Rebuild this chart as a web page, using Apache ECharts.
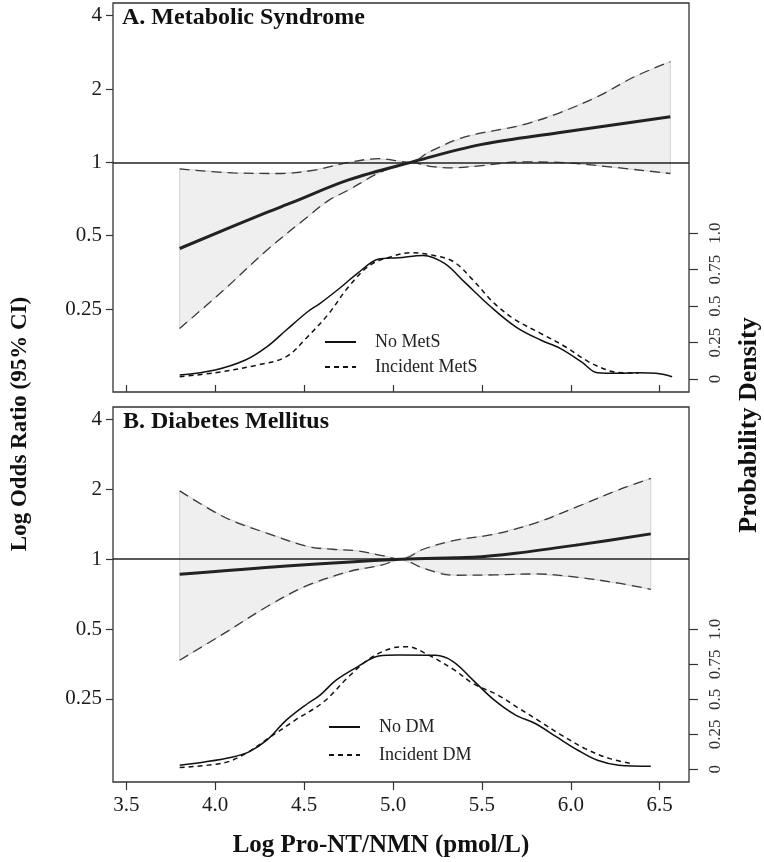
<!DOCTYPE html>
<html><head><meta charset="utf-8">
<script src="https://cdn.jsdelivr.net/npm/echarts@6.0.0/dist/echarts.min.js"></script>
<style>html,body{margin:0;padding:0;background:#fff}#c{width:764px;height:862px}</style>
</head><body><div id="c"></div><script>
// ---------- tick values / labels ----------
const xTickValues = [3.5, 4.0, 4.5, 5.0, 5.5, 6.0, 6.5];
const xTickLabels = ['3.5', '4.0', '4.5', '5.0', '5.5', '6.0', '6.5'];
const orTickValues = [0.25, 0.5, 1, 2, 4];
const orTickLabels = ['0.25', '0.5', '1', '2', '4'];
const densTickValues = [0, 0.25, 0.5, 0.75, 1.0];
const densTickLabels = ['0', '0.25', '0.5', '0.75', '1.0'];

// ---------- Panel A: Metabolic Syndrome ----------
const metsMean = [[3.8,0.443],[4.29,0.623],[4.43,0.683],[4.75,0.847],[5.1,1.0],[5.5,1.185],[5.93,1.323],[6.56,1.539]];
const metsUpper = [[3.8,0.94],[4.1,0.905],[4.37,0.90],[4.56,0.93],[4.75,1.0],[4.92,1.035],[5.1,1.0],[5.2,1.10],[5.4,1.27],[5.72,1.42],[5.93,1.59],[6.15,1.86],[6.36,2.25],[6.56,2.59]];
const metsLower = [[3.8,0.208],[4.05,0.30],[4.29,0.436],[4.52,0.598],[4.64,0.70],[4.75,0.77],[4.9,0.89],[5.0,0.953],[5.1,1.0],[5.22,0.96],[5.33,0.95],[5.5,0.97],[5.72,1.005],[5.93,1.0],[6.15,0.97],[6.56,0.90]];
const metsDensNo = [[3.8,0.027],[4.0,0.062],[4.17,0.13],[4.29,0.22],[4.4,0.336],[4.52,0.461],[4.59,0.518],[4.71,0.632],[4.8,0.724],[4.92,0.822],[5.03,0.831],[5.17,0.847],[5.29,0.792],[5.4,0.667],[5.55,0.495],[5.69,0.358],[5.83,0.267],[5.94,0.21],[6.06,0.118],[6.15,0.043],[6.27,0.039],[6.38,0.043],[6.48,0.039],[6.57,0.016]];
const metsDensInc = [[3.8,0.016],[4.0,0.043],[4.24,0.096],[4.4,0.153],[4.52,0.29],[4.64,0.45],[4.75,0.632],[4.87,0.78],[4.99,0.838],[5.1,0.865],[5.22,0.849],[5.34,0.804],[5.45,0.678],[5.57,0.518],[5.69,0.404],[5.83,0.313],[5.97,0.221],[6.1,0.118],[6.22,0.055],[6.29,0.043],[6.38,0.04]];

// ---------- Panel B: Diabetes Mellitus ----------
const dmMean = [[3.8,0.861],[4.4,0.936],[5.045,1.0],[5.45,1.02],[5.69,1.061],[6.04,1.153],[6.45,1.286]];
const dmUpper = [[3.8,1.97],[4.05,1.52],[4.29,1.295],[4.52,1.134],[4.66,1.104],[4.8,1.086],[4.94,1.037],[5.045,1.0],[5.17,1.104],[5.34,1.203],[5.57,1.282],[5.8,1.43],[6.04,1.688],[6.27,1.992],[6.45,2.23]];
const dmLower = [[3.8,0.367],[4.05,0.479],[4.29,0.624],[4.5,0.76],[4.75,0.884],[4.94,0.945],[5.045,1.0],[5.17,0.914],[5.34,0.853],[5.57,0.856],[5.8,0.864],[6.04,0.836],[6.27,0.788],[6.45,0.742]];
const dmDensNo = [[3.8,0.029],[3.94,0.052],[4.1,0.088],[4.19,0.124],[4.29,0.208],[4.4,0.351],[4.52,0.47],[4.59,0.53],[4.68,0.637],[4.8,0.732],[4.92,0.809],[5.03,0.816],[5.24,0.814],[5.34,0.768],[5.45,0.637],[5.57,0.494],[5.69,0.387],[5.8,0.327],[5.92,0.231],[6.04,0.136],[6.15,0.064],[6.27,0.029],[6.45,0.021]];
const dmDensInc = [[3.8,0.013],[4.05,0.046],[4.17,0.112],[4.31,0.231],[4.45,0.351],[4.61,0.482],[4.75,0.661],[4.87,0.792],[4.99,0.864],[5.08,0.876],[5.2,0.816],[5.34,0.714],[5.45,0.613],[5.59,0.53],[5.71,0.434],[5.83,0.339],[5.94,0.25],[6.08,0.148],[6.22,0.076],[6.34,0.041]];

// ---------- helpers ----------
const SERIF = "'Liberation Serif','Times New Roman',serif";
function labelFrom(values, labels) {
  return function (v) {
    for (let i = 0; i < values.length; i++) {
      if (Math.abs(values[i] - v) < 1e-6 * Math.max(1, Math.abs(values[i]))) return labels[i];
    }
    return '';
  };
}
function xAxisDef(gi, showLabels) {
  return {
    gridIndex: gi, type: 'value', min: 3.425, max: 6.665,
    axisLine: { show: false, onZero: false },
    splitLine: { show: false },
    axisTick: { show: true, inside: !showLabels, length: showLabels ? 8 : 7, customValues: xTickValues, lineStyle: { color: '#333', width: 1.2 } },
    axisLabel: { show: showLabels, customValues: xTickValues, formatter: labelFrom(xTickValues, xTickLabels), margin: 13, fontFamily: SERIF, fontSize: 21, color: '#1a1a1a' }
  };
}
function orAxisDef(gi, mn, mx) {
  return {
    gridIndex: gi, type: 'log', logBase: 2, min: mn, max: mx, position: 'left',
    axisLine: { show: false }, splitLine: { show: false },
    axisTick: { show: true, length: 7, customValues: orTickValues, lineStyle: { color: '#333', width: 1.2 } },
    axisLabel: { customValues: orTickValues, formatter: labelFrom(orTickValues, orTickLabels), margin: 11, fontFamily: SERIF, fontSize: 21, color: '#1a1a1a' }
  };
}
function densAxisDef(gi, mn, mx) {
  return {
    gridIndex: gi, type: 'value', min: mn, max: mx, position: 'right',
    axisLine: { show: false }, splitLine: { show: false },
    axisTick: { show: true, length: 9, customValues: densTickValues, lineStyle: { color: '#333', width: 1.2 } },
    axisLabel: { rotate: 90, customValues: densTickValues, formatter: labelFrom(densTickValues, densTickLabels), margin: 18, fontFamily: SERIF, fontSize: 17, color: '#333' }
  };
}
function bandSeries(xi, yi, upper, lower) {
  return {
    type: 'custom', xAxisIndex: xi, yAxisIndex: yi, silent: true, z: 1,
    data: [upper[0]],
    renderItem: function (params, api) {
      const pts = upper.map(p => api.coord(p)).concat(lower.slice().reverse().map(p => api.coord(p)));
      return { type: 'polygon', shape: { points: pts }, style: { fill: '#efefef', stroke: '#d2d2d2', lineWidth: 1 } };
    }
  };
}
function ciLine(name, xi, yi, data) {
  return { name: name, type: 'line', xAxisIndex: xi, yAxisIndex: yi, data: data, symbol: 'none', smooth: 0.35, z: 3,
    itemStyle: { color: '#3a3a3a' },
    lineStyle: { color: '#3a3a3a', width: 1.3, type: [10, 6] } };
}
function meanLine(name, xi, yi, data) {
  return { name: name, type: 'line', xAxisIndex: xi, yAxisIndex: yi, data: data, symbol: 'none', smooth: 0.35, z: 4,
    itemStyle: { color: '#222' },
    lineStyle: { color: '#222', width: 3 },
    markLine: { silent: true, symbol: ['none', 'none'], label: { show: false }, lineStyle: { color: '#222', width: 1.5, type: 'solid' }, data: [{ yAxis: 1 }] } };
}
function densLine(name, xi, yi, data, dashed) {
  return { name: name, type: 'line', xAxisIndex: xi, yAxisIndex: yi, data: data, symbol: 'none', smooth: 0.35, z: 5,
    itemStyle: { color: '#111' },
    lineStyle: { color: '#111', width: 1.5, type: dashed ? [5, 4] : 'solid' } };
}
function legendDef(names, left, top, gap) {
  return { data: names, orient: 'vertical', left: left, top: top, itemWidth: 31, itemHeight: 14, itemGap: gap, selectedMode: false,
    itemStyle: { opacity: 0 }, lineStyle: { opacity: 1 },
    textStyle: { fontFamily: SERIF, fontSize: 18, color: '#222', lineHeight: 18, padding: [0, 0, 0, 14] } };
}

const chart = echarts.init(document.getElementById('c'), null, { renderer: 'canvas' });
chart.setOption({
  animation: false,
  backgroundColor: '#fff',
  grid: [
    { left: 113, top: 3, width: 576, height: 389, show: true, borderColor: '#333', borderWidth: 1.3, backgroundColor: 'transparent', containLabel: false, outerBoundsMode: 'none' },
    { left: 113, top: 407, width: 576, height: 375, show: true, borderColor: '#333', borderWidth: 1.3, backgroundColor: 'transparent', containLabel: false, outerBoundsMode: 'none' }
  ],
  xAxis: [xAxisDef(0, false), xAxisDef(1, true)],
  yAxis: [orAxisDef(0, 0.1141, 4.51), densAxisDef(0, -0.089, 2.576), orAxisDef(1, 0.1096, 4.53), densAxisDef(1, -0.091, 2.589)],
  legend: [
    legendDef(['No MetS', 'Incident MetS'], 319, 328, 7),
    legendDef(['No DM', 'Incident DM'], 323, 713, 10)
  ],
  series: [
    bandSeries(0, 0, metsUpper, metsLower),
    ciLine('MetS upper 95% CI', 0, 0, metsUpper),
    ciLine('MetS lower 95% CI', 0, 0, metsLower),
    meanLine('MetS odds ratio', 0, 0, metsMean),
    densLine('No MetS', 0, 1, metsDensNo, false),
    densLine('Incident MetS', 0, 1, metsDensInc, true),
    bandSeries(1, 2, dmUpper, dmLower),
    ciLine('DM upper 95% CI', 1, 2, dmUpper),
    ciLine('DM lower 95% CI', 1, 2, dmLower),
    meanLine('DM odds ratio', 1, 2, dmMean),
    densLine('No DM', 1, 3, dmDensNo, false),
    densLine('Incident DM', 1, 3, dmDensInc, true)
  ],
  graphic: [
    { type: 'text', x: 122, y: 18, style: { text: 'A. Metabolic Syndrome', font: 'bold 24px ' + SERIF, fill: '#111', textAlign: 'left', textVerticalAlign: 'middle' } },
    { type: 'text', x: 123, y: 422, style: { text: 'B. Diabetes Mellitus', font: 'bold 24px ' + SERIF, fill: '#111', textAlign: 'left', textVerticalAlign: 'middle' } },
    { type: 'text', x: 20, y: 424, rotation: Math.PI / 2, style: { text: 'Log Odds Ratio (95% CI)', font: 'bold 23px ' + SERIF, fill: '#111', textAlign: 'center', textVerticalAlign: 'middle' } },
    { type: 'text', x: 749, y: 425, rotation: Math.PI / 2, style: { text: 'Probability Density', font: 'bold 26px ' + SERIF, fill: '#111', textAlign: 'center', textVerticalAlign: 'middle' } },
    { type: 'text', x: 381, y: 846, style: { text: 'Log Pro-NT/NMN (pmol/L)', font: 'bold 25px ' + SERIF, fill: '#111', textAlign: 'center', textVerticalAlign: 'middle' } }
  ]
});
</script></body></html>
